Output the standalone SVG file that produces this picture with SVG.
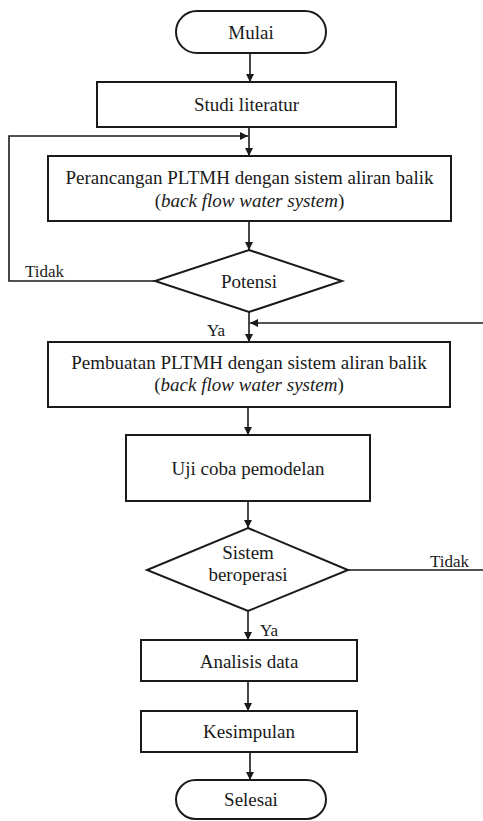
<svg xmlns="http://www.w3.org/2000/svg" width="483" height="821" viewBox="0 0 483 821">
<defs>
<marker id="ah" markerWidth="8" markerHeight="8" refX="8" refY="4" orient="auto" markerUnits="userSpaceOnUse">
<path d="M0,0 L8,4 L0,8 Z" fill="#1a1a1a"/>
</marker>
<style>
.box{fill:#fff;stroke:#1a1a1a;stroke-width:2}
.t{font-family:"Liberation Serif","Times New Roman",serif;font-size:19px;fill:#1a1a1a;text-anchor:middle}
.lbl{font-family:"Liberation Serif","Times New Roman",serif;font-size:17px;fill:#1a1a1a}
.c{fill:none;stroke:#1a1a1a;stroke-width:1.6}
</style>
</defs>
<rect width="483" height="821" fill="#fff"/>
<g id="connectors">
<line class="c" x1="250" y1="53" x2="250" y2="82" marker-end="url(#ah)"/>
<line class="c" x1="249" y1="127" x2="249" y2="156" marker-end="url(#ah)"/>
<polyline class="c" points="155,281 9,281 9,136 248,136" marker-end="url(#ah)"/>
<line class="c" x1="249" y1="221" x2="249" y2="250" marker-end="url(#ah)"/>
<line class="c" x1="249" y1="312" x2="249" y2="342" marker-end="url(#ah)"/>
<line class="c" x1="483" y1="323" x2="250" y2="323" marker-end="url(#ah)"/>
<line class="c" x1="248" y1="407" x2="248" y2="435" marker-end="url(#ah)"/>
<line class="c" x1="248" y1="501" x2="248" y2="528" marker-end="url(#ah)"/>
<line class="c" x1="348" y1="570" x2="483" y2="570"/>
<line class="c" x1="248" y1="611" x2="248" y2="640" marker-end="url(#ah)"/>
<line class="c" x1="248" y1="681" x2="248" y2="711" marker-end="url(#ah)"/>
<line class="c" x1="250" y1="752" x2="250" y2="780" marker-end="url(#ah)"/>
<text class="lbl" x="25" y="277">Tidak</text>
<text class="lbl" x="207" y="336">Ya</text>
<text class="lbl" x="430" y="567">Tidak</text>
<text class="lbl" x="260" y="636">Ya</text>
</g>
<g id="mulai">
<rect class="box" x="176" y="11" width="150" height="42" rx="21"/>
<text class="t" x="251" y="39">Mulai</text>
</g>
<g id="studi">
<rect class="box" x="97" y="82" width="299" height="45"/>
<text class="t" x="246.5" y="111">Studi literatur</text>
</g>
<g id="perancangan">
<rect class="box" x="48" y="156" width="403" height="65"/>
<text class="t" x="249.5" y="184">Perancangan PLTMH dengan sistem aliran balik</text>
<text class="t" x="249.5" y="207">(<tspan font-style="italic">back flow water system</tspan>)</text>
</g>
<g id="potensi">
<polygon class="box" points="249,250 342,281 249,312 155,281"/>
<text class="t" x="249" y="288">Potensi</text>
</g>
<g id="pembuatan">
<rect class="box" x="48" y="342" width="402" height="65"/>
<text class="t" x="249" y="369">Pembuatan PLTMH dengan sistem aliran balik</text>
<text class="t" x="249" y="391">(<tspan font-style="italic">back flow water system</tspan>)</text>
</g>
<g id="uji">
<rect class="box" x="126" y="435" width="244" height="66"/>
<text class="t" x="248" y="475">Uji coba pemodelan</text>
</g>
<g id="sistem">
<polygon class="box" points="248,528 348,570 248,611 147,570"/>
<text class="t" x="248" y="559">Sistem</text>
<text class="t" x="248" y="581">beroperasi</text>
</g>
<g id="analisis">
<rect class="box" x="141" y="640" width="216" height="41"/>
<text class="t" x="249" y="668">Analisis data</text>
</g>
<g id="kesimpulan">
<rect class="box" x="141" y="711" width="216" height="41"/>
<text class="t" x="249" y="738">Kesimpulan</text>
</g>
<g id="selesai">
<rect class="box" x="176" y="780" width="150" height="39" rx="19.5"/>
<text class="t" x="251" y="806">Selesai</text>
</g>
</svg>
